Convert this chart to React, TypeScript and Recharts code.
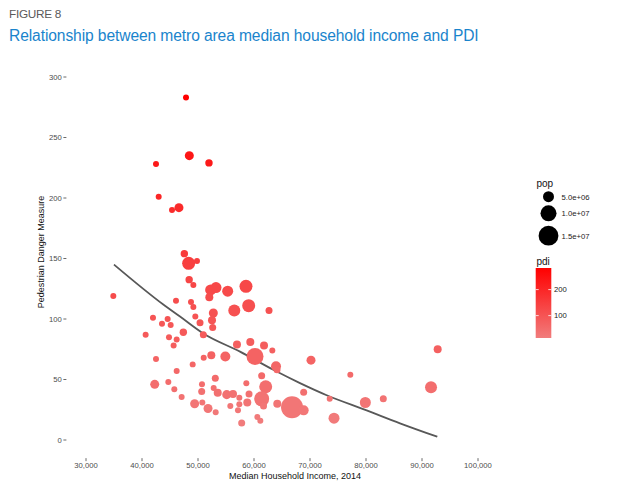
import React from 'react';
import { ComposedChart, Scatter, Line, XAxis, YAxis, ZAxis, Cell } from 'recharts';

const income = [
  47860, 48450, 42500, 51960, 42980, 46600, 45360, 47560, 48330, 49820,
  48420, 34880, 49170, 52260, 53210, 52020, 55300, 58570, 46070, 48750,
  49170, 52740, 56480, 59050, 62680, 41960, 44580, 43570, 45120, 49520,
  50360, 52500, 52620, 47380, 40650, 44820, 46190, 50950, 45650, 56960,
  59340, 61790, 63270, 60180, 42500, 51020, 52380, 54880, 49050, 63930,
  64110, 46190, 53090, 61370, 42270, 44700, 45770, 50710, 52800, 50660,
  53520, 55130, 56250, 58630, 57380, 59110, 58800, 62090, 61370, 47080,
  49400, 50770, 51790, 53160, 55770, 57140, 57380, 61700, 64160, 57800,
  60590, 61130, 70180, 77200, 68870, 73520, 66790, 68870, 74290, 92800,
  91610, 79880, 83090,
];
const pdi = [
  283, 235, 228, 229, 201, 192, 190, 154, 146, 148,
  132.5, 119, 128, 124, 126, 118, 123, 127, 115, 114,
  110, 105, 107, 111, 107, 101, 100, 96, 95, 102,
  97, 99, 93, 89, 87, 85, 83, 87, 78, 79,
  81, 78, 74, 69, 67, 68, 70, 69, 62.5, 61,
  58, 57, 51, 53, 46, 48, 42, 46, 43, 40,
  39, 37.5, 38, 47, 35, 38, 31, 44, 34, 35.5,
  30, 31, 26, 23, 28, 24.5, 29.5, 28, 30, 14,
  19, 16, 66, 54, 39.5, 34, 27, 24.5, 18, 75,
  43.5, 31, 34,
];
const pop = [
  1.91e6, 3.57e6, 1.91e6, 2.6e6, 1.91e6, 3.57e6, 1.91e6, 2.6e6, 6.8e6, 1.91e6,
  2.6e6, 1.91e6, 1.91e6, 5.04e6, 5.04e6, 2.94e6, 5.04e6, 6.8e6, 1.91e6, 1.91e6,
  1.91e6, 3.57e6, 5.88e6, 6.8e6, 2.39e6, 1.91e6, 1.91e6, 1.91e6, 1.91e6, 1.91e6,
  2.39e6, 2.94e6, 2.39e6, 2.6e6, 1.91e6, 1.91e6, 1.91e6, 2.39e6, 1.91e6, 2.94e6,
  2.94e6, 2.94e6, 1.91e6, 11.2e6, 1.91e6, 1.91e6, 2.94e6, 4.26e6, 1.91e6, 4.26e6,
  2.39e6, 1.91e6, 2.39e6, 2.39e6, 3.57e6, 1.91e6, 1.91e6, 1.91e6, 1.91e6, 2.39e6,
  2.94e6, 3.57e6, 2.94e6, 1.91e6, 1.91e6, 2.39e6, 2.94e6, 6.8e6, 8.86e6, 1.91e6,
  3.57e6, 1.91e6, 3.57e6, 1.91e6, 1.91e6, 1.91e6, 1.91e6, 2.39e6, 2.94e6, 2.39e6,
  1.91e6, 1.91e6, 3.57e6, 1.91e6, 2.39e6, 1.91e6, 18.4e6, 4.26e6, 5.04e6, 2.94e6,
  5.88e6, 5.04e6, 2.39e6,
];

const fitIncome = [35000, 43800, 46790, 50950, 57500, 63450, 68210, 72980, 80120, 86070, 92730];
const fitPdi = [145, 112, 102, 88, 73, 58, 47, 37, 24.5, 13.8, 2.7];

const xTicks = [30000, 40000, 50000, 60000, 70000, 80000, 90000, 100000];
const yTicks = [0, 50, 100, 150, 200, 250, 300];
const popLegend = [5e6, 1e7, 1.5e7];
const popLegendLabels = ['5.0e+06', '1.0e+07', '1.5e+07'];
const pdiLegendTicks = [100, 200];

const FONT = '"Liberation Sans", Arial, Helvetica, sans-serif';

const points = income.map((x, i) => ({ x, y: pdi[i], pop: pop[i] }));
const fit = fitIncome.map((x, i) => ({ x, y: fitPdi[i] }));

const pdiMin = Math.min(...pdi);
const pdiMax = Math.max(...pdi);
const LOW = [241, 124, 124];
const HIGH = [255, 0, 0];
const colorFor = (v: number) => {
  const t = Math.max(0, Math.min(1, (v - pdiMin) / (pdiMax - pdiMin)));
  const c = LOW.map((l, k) => Math.round(l + (HIGH[k] - l) * t));
  return `rgb(${c[0]},${c[1]},${c[2]})`;
};

// size: area linear in pop (r^2 = a + b*pop)
const SA = -4;
const SB = 6.8e-6;
const zDomain = [1.5e6, 2e7];
const areaFor = (p: number) => Math.PI * (SA + SB * p);
const radiusFor = (p: number) => Math.sqrt(SA + SB * p);

const fmt = (v: number) => v.toLocaleString('en-US');

// plot geometry
const PLOT_LEFT = 66.4;
const PLOT_RIGHT = 497.6;
const PLOT_TOP = 58.85;
const PLOT_BOTTOM = 458.15;
const X_AXIS_H = 30;

export default function App() {
  const legendBarTop = 268;
  const legendBarH = 70;
  const barY = (v: number) => legendBarTop + ((pdiMax - v) * legendBarH) / (pdiMax - pdiMin);
  const popY = [196.7, 213.3, 235.7];
  return (
    <div style={{ position: 'absolute', left: 0, top: 0, width: 622, height: 500, background: '#fff', fontFamily: FONT }}>
      <div style={{ position: 'absolute', left: 9, top: 7, fontSize: 11.8, color: '#5a5a5a', letterSpacing: -0.3 }}>FIGURE 8</div>
      <div style={{ position: 'absolute', left: 9, top: 27, fontSize: 15.6, color: '#1a84cc', letterSpacing: -0.1 }}>
        Relationship between metro area median household income and PDI
      </div>
      <div style={{ position: 'absolute', left: 0, top: 0 }}>
        <ComposedChart
          width={622}
          height={500}
          margin={{ top: PLOT_TOP, right: 622 - PLOT_RIGHT, bottom: 500 - PLOT_BOTTOM - X_AXIS_H, left: 0 }}
        >
          <XAxis
            type="number"
            dataKey="x"
            domain={[26500, 103500]}
            ticks={xTicks}
            tickFormatter={fmt}
            axisLine={false}
            tickSize={3}
            tickMargin={1}
            tickLine={{ stroke: '#444', strokeWidth: 0.8 }}
            tick={{ fontSize: 7.7, fill: '#4d4d4d', fontFamily: FONT }}
            height={X_AXIS_H}
            allowDataOverflow
          />
          <YAxis
            type="number"
            dataKey="y"
            domain={[-15, 315]}
            ticks={yTicks}
            axisLine={false}
            tickSize={3}
            tickMargin={1.5}
            tickLine={{ stroke: '#444', strokeWidth: 0.8 }}
            tick={{ fontSize: 7.7, fill: '#4d4d4d', fontFamily: FONT }}
            width={PLOT_LEFT}
            allowDataOverflow
          />
          <ZAxis type="number" dataKey="pop" domain={zDomain} range={[areaFor(zDomain[0]), areaFor(zDomain[1])]} />
          <Scatter data={points} dataKey="y" isAnimationActive={false} stroke="none">
            {points.map((p, i) => (
              <Cell key={i} fill={colorFor(p.y)} />
            ))}
          </Scatter>
          <Line
            data={fit}
            dataKey="y"
            type="monotone"
            dot={false}
            activeDot={false}
            stroke="#585858"
            strokeWidth={1.8}
            isAnimationActive={false}
          />
        </ComposedChart>
      </div>
      <svg width={622} height={500} style={{ position: 'absolute', left: 0, top: 0, pointerEvents: 'none' }}>
        <defs>
          <linearGradient id="pdiGrad" x1="0" y1="0" x2="0" y2="1">
            <stop offset="0%" stopColor={colorFor(pdiMax)} />
            <stop offset="100%" stopColor={colorFor(pdiMin)} />
          </linearGradient>
        </defs>
        <text x={295} y={479} textAnchor="middle" fontSize={9} fill="#111" fontFamily={FONT}>
          Median Household Income, 2014
        </text>
        <text
          x={44}
          y={252}
          textAnchor="middle"
          fontSize={9}
          fill="#111"
          fontFamily={FONT}
          transform="rotate(-90 44 252)"
        >
          Pedestrian Danger Measure
        </text>
        <text x={536.5} y={187} fontSize={10} fill="#111" fontFamily={FONT}>pop</text>
        {popLegend.map((p, i) => (
          <g key={p}>
            <circle cx={548.5} cy={popY[i]} r={radiusFor(p)} fill="#000" />
            <text x={561.5} y={popY[i] + 2.8} fontSize={7.7} fill="#1a1a1a" fontFamily={FONT}>
              {popLegendLabels[i]}
            </text>
          </g>
        ))}
        <text x={536.5} y={265} fontSize={10} fill="#111" fontFamily={FONT}>pdi</text>
        <rect x={535.7} y={legendBarTop} width={15.6} height={legendBarH} fill="url(#pdiGrad)" />
        {pdiLegendTicks.map((v) => (
          <g key={v}>
            <line x1={535.7} x2={538.7} y1={barY(v)} y2={barY(v)} stroke="#fff" strokeWidth={0.8} />
            <line x1={548.3} x2={551.3} y1={barY(v)} y2={barY(v)} stroke="#fff" strokeWidth={0.8} />
            <text x={554} y={barY(v) + 2.8} fontSize={7.7} fill="#1a1a1a" fontFamily={FONT}>
              {v}
            </text>
          </g>
        ))}
      </svg>
    </div>
  );
}
